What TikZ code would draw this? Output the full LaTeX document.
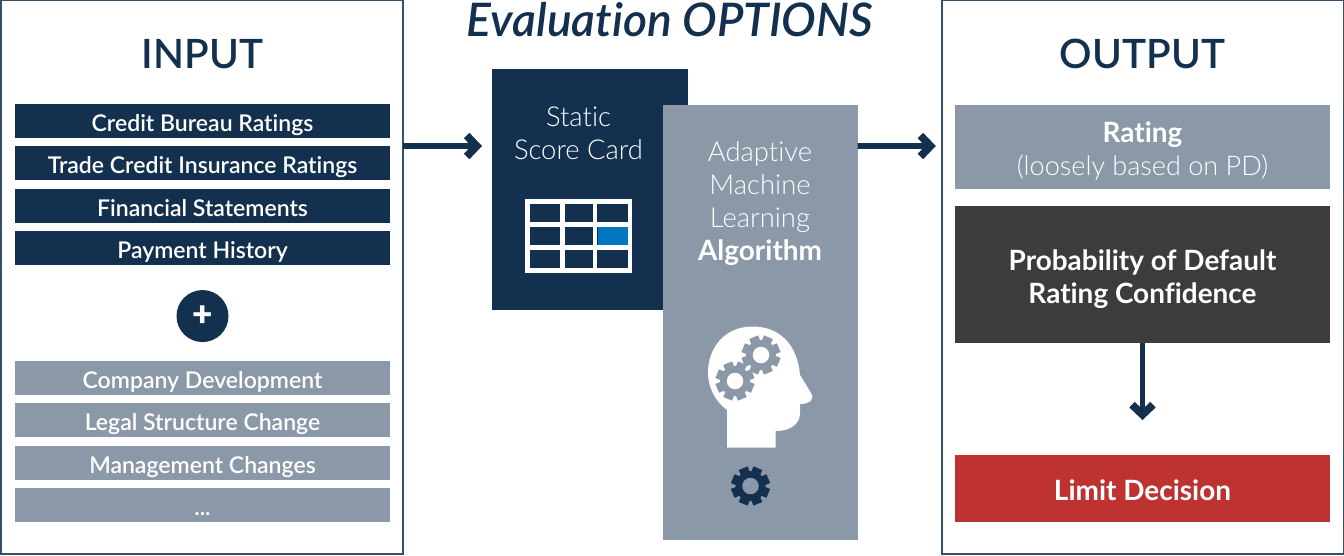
\documentclass[tikz,border=0pt]{standalone}
\usepackage{fontspec}
\setmainfont{Lato}[Ligatures=NoCommon]
\newfontfamily\lightfont{Lato Light}[Ligatures=NoCommon]
\newfontfamily\medfont{Lato Semibold}[Ligatures=NoCommon]
\newfontfamily\plusfont{Lato Black}
\usetikzlibrary{arrows.meta,positioning}
\definecolor{navy}{HTML}{14304F}
\definecolor{slate}{HTML}{8A98A8}
\definecolor{charcoal}{HTML}{3C3C3C}
\definecolor{signal}{HTML}{BE3232}
\definecolor{cellblue}{HTML}{0076BE}
\tikzset{
  pics/gearicon/.style 2 args={code={
    \fill[#1] (0,0) circle (0.3);
    \foreach \a in {0,45,...,315}
      \fill[#1, rotate=\a+22.5] (-0.095,0.2) rectangle (0.095,0.385);
    \fill[#2] (0,0) circle (0.165);
  }}
}

\begin{document}
\begin{tikzpicture}[
  every node/.style={outer sep=0pt},
  panel/.style={draw=navy!85, line width=0.03cm, minimum width=8.03cm,
                minimum height=11.07cm, inner sep=0pt},
  bar/.style={minimum width=7.5cm, minimum height=0.68cm, inner sep=0pt,
              text=white, font=\fontsize{13.1}{14}\selectfont\medfont,
              text height=13.9pt, text depth=2pt},
  navybar/.style={bar, fill=navy},
  greybar/.style={bar, fill=slate},
  outbox/.style={minimum width=7.5cm, inner sep=0pt, text=white, align=center,
                 font=\fontsize{15.9}{18.7}\selectfont\bfseries},
  heading/.style={text=navy, inner sep=0pt, font=\fontsize{23}{28}\selectfont\medfont},
  lighttext/.style={text=white, inner sep=0pt, align=center,
                    font=\fontsize{15.6}{18.7}\selectfont\lightfont},
  ar/.style={-{Straight Barb[length=2mm,width=4.2mm,line width=0pt 1.35]}, navy, line width=0.115cm},
  node distance=0.167cm
]
  \useasboundingbox (0,0) rectangle (26.88,-11.1);

  % left column
  \node[panel] (inputbox) at (4.04,-5.54) {};
  \node[heading] (inputhead) at (4.05,-1.08) {INPUT};
  \node[navybar] (bureau) at (4.05,-2.42) {Credit Bureau Ratings};
  \node[navybar, below=of bureau] (trade) {Trade Credit Insurance Ratings};
  \node[navybar, below=of trade] (financial) {Financial Statements};
  \node[navybar, below=of financial] (payment) {Payment History};
  \node[circle, fill=navy, minimum size=1.04cm, inner sep=0pt, text=white,
        font=\fontsize{20}{20}\selectfont\plusfont, below=0.5cm of payment] (plus) {+};
  \node[greybar, below=0.38cm of plus] (company) {Company Development};
  \node[greybar, below=of company] (legal) {Legal Structure Change};
  \node[greybar, below=of legal] (management) {Management Changes};
  \node[greybar, below=of management] (more) {...};

  % middle
  \node[text=navy, inner sep=0pt, font=\fontsize{26.3}{30}\selectfont\medfont\itshape]
    (title) at (13.4,-0.4) {Evaluation OPTIONS};
  \node[fill=navy, minimum width=3.92cm, minimum height=4.82cm, inner sep=0pt] (static) at (11.8,-3.79) {};
  \node[lighttext] (staticlabel) at (11.57,-2.67) {Static\\Score Card};
  % table icon
  \draw[white, line width=0.09cm] (10.55,-4.03) rectangle (12.6,-5.41);
  \foreach \x in {11.25,11.9}
    \draw[white, line width=0.09cm] (\x,-4.03) -- (\x,-5.41);
  \foreach \y in {-4.49,-4.95}
    \draw[white, line width=0.09cm] (10.55,\y) -- (12.6,\y);
  \fill[cellblue] (11.95,-4.54) rectangle (12.55,-4.9);

  \node[fill=slate, minimum width=3.9cm, minimum height=8.7cm, inner sep=0pt] (algo) at (15.2,-6.45) {};
  \node[lighttext] (algolabel) at (15.2,-4.07)
    {Adaptive\\Machine\\Learning\\{\fontspec{Lato}[Ligatures=NoCommon]\fontsize{15.9}{18.7}\selectfont\bfseries Algorithm}};
  % head icon
  \fill[white] (14.54,-8.95) -- (15.51,-8.95) -- (15.51,-8.62)
    .. controls (15.85,-8.62) and (16,-8.45) .. (16,-8.26) -- (16,-8.08)
    .. controls (16.2,-8.08) and (16.3,-7.98) .. (16.22,-7.86)
    -- (16,-7.5)
    .. controls (15.95,-6.9) and (15.6,-6.53) .. (15.05,-6.53)
    .. controls (14.5,-6.53) and (14.16,-6.95) .. (14.16,-7.45)
    .. controls (14.16,-7.75) and (14.3,-8.02) .. (14.54,-8.2) -- cycle;
  \pic at (14.7,-7.62) {gearicon={slate}{white}};
  \pic at (15.22,-7.1) {gearicon={slate}{white}};
  \pic at (15.01,-9.72) {gearicon={navy}{slate}};

  % right column
  \node[panel] (outputbox) at (22.85,-5.54) {};
  \node[heading] (outputhead) at (22.85,-1.08) {OUTPUT};
  \node[outbox, fill=slate, minimum height=1.68cm] (rating) at (22.85,-2.94)
    {\rule{0pt}{16pt}Rating\\{\lightfont\mdseries\fontsize{15.4}{18.7}\selectfont (loosely based on PD)}};
  \node[outbox, fill=charcoal, minimum height=2.74cm, below=0.34cm of rating] (probability)
    {\rule{0pt}{17pt}Probability of Default\\Rating Confidence};
  \node[outbox, fill=signal, minimum height=1.34cm, below=2.24cm of probability] (limit) {\rule{0pt}{14pt}Limit Decision};

  \draw[ar, shorten >=0.2cm] ([yshift=2.62cm]inputbox.east) -- ([yshift=0.87cm]static.west);
  \draw[ar, shorten >=0.12cm] ([yshift=3.53cm]algo.east) -- ([yshift=2.62cm]outputbox.west);
  \draw[ar, shorten >=0.7cm] (probability) -- (limit);
\end{tikzpicture}
\end{document}
